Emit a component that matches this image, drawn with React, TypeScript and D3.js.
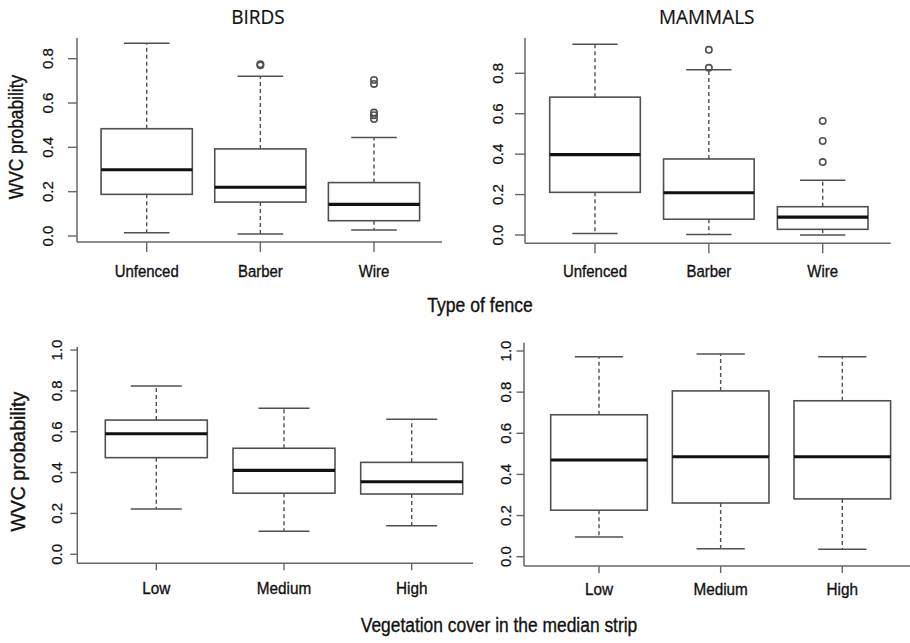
import React from "react";
import * as d3 from "d3";

// ---------- DATA ----------
const fenceCategories = ["Unfenced", "Barber", "Wire"];
const vegCategories = ["Low", "Medium", "High"];

// [lower whisker, Q1, median, Q3, upper whisker]
const birdsFenceStats = [
  [0.015, 0.188, 0.299, 0.484, 0.87],
  [0.009, 0.153, 0.22, 0.393, 0.721],
  [0.027, 0.069, 0.143, 0.241, 0.444],
];
const birdsFenceOutliers = [[], [0.77, 0.775], [0.528, 0.545, 0.557, 0.686, 0.704]];

const mammalsFenceStats = [
  [0.008, 0.211, 0.398, 0.682, 0.944],
  [0.003, 0.078, 0.209, 0.376, 0.818],
  [0.0, 0.028, 0.088, 0.14, 0.271],
];
const mammalsFenceOutliers = [[], [0.827, 0.916], [0.361, 0.465, 0.564]];

const birdsVegStats = [
  [0.222, 0.473, 0.59, 0.657, 0.824],
  [0.113, 0.299, 0.411, 0.519, 0.715],
  [0.14, 0.295, 0.355, 0.45, 0.661],
];
const birdsVegOutliers = [[], [], []];

const mammalsVegStats = [
  [0.096, 0.226, 0.47, 0.69, 0.972],
  [0.039, 0.261, 0.486, 0.806, 0.985],
  [0.036, 0.281, 0.486, 0.758, 0.972],
];
const mammalsVegOutliers = [[], [], []];

const fenceTicks = [0, 0.2, 0.4, 0.6, 0.8];
const vegTicks = [0, 0.2, 0.4, 0.6, 0.8, 1.0];

const panelTitles = ["BIRDS", "MAMMALS"];
const yTitle = "WVC probability";
const fenceTitle = "Type of fence";
const vegTitle = "Vegetation cover in the median strip";

// ---------- LAYOUT ----------
const FONT = "'Liberation Sans', Arial, Helvetica, sans-serif";
const AXIS = "#666";
const BOX = "#505050";

type Panel = {
  cats: string[];
  stats: number[][];
  outliers: number[][];
  ticks: number[];
  tickDomainMax: number;
  xRange: [number, number];
  yRange: [number, number];
  axisX: [number, number];
  axisYTop: number;
  axisYBottom: number;
  halfW: number;
  yTickLen: number;
  xTickLen: number;
  tickLabelX: number;
  catBaseline: number;
  catSx: number;
};

const panels: Panel[] = [
  {
    cats: fenceCategories, stats: birdsFenceStats, outliers: birdsFenceOutliers,
    ticks: fenceTicks, tickDomainMax: 0.8,
    xRange: [146.7, 374], yRange: [236, 58.7],
    axisX: [77, 442], axisYTop: 38, axisYBottom: 242,
    halfW: 45.6, yTickLen: 9, xTickLen: 10, tickLabelX: 52.7, catBaseline: 276.7, catSx: 0.88,
  },
  {
    cats: fenceCategories, stats: mammalsFenceStats, outliers: mammalsFenceOutliers,
    ticks: fenceTicks, tickDomainMax: 0.8,
    xRange: [595, 822.7], yRange: [235, 73.3],
    axisX: [525, 890.7], axisYTop: 38, axisYBottom: 243.3,
    halfW: 45.3, yTickLen: 10, xTickLen: 10, tickLabelX: 502.7, catBaseline: 276.7, catSx: 0.88,
  },
  {
    cats: vegCategories, stats: birdsVegStats, outliers: birdsVegOutliers,
    ticks: vegTicks, tickDomainMax: 1.0,
    xRange: [156.3, 411.7], yRange: [554.3, 350],
    axisX: [77.3, 473], axisYTop: 347, axisYBottom: 563.3,
    halfW: 51, yTickLen: 7, xTickLen: 7, tickLabelX: 61.7, catBaseline: 594, catSx: 0.9,
  },
  {
    cats: vegCategories, stats: mammalsVegStats, outliers: mammalsVegOutliers,
    ticks: vegTicks, tickDomainMax: 1.0,
    xRange: [599, 842.3], yRange: [556.7, 351],
    axisX: [524, 910], axisYTop: 342.7, axisYBottom: 566,
    halfW: 48.3, yTickLen: 7.5, xTickLen: 7, tickLabelX: 511, catBaseline: 595, catSx: 0.9,
  },
];

function Txt(props: {
  x: number; y: number; size: number; sx?: number; rot?: number;
  family?: string; children: React.ReactNode; fill?: string; weight?: number;
}) {
  const { x, y, size, sx = 1, rot = 0, family = FONT, fill = "#111", weight = 0.35 } = props;
  return (
    <text
      transform={`translate(${x},${y}) rotate(${rot}) scale(${sx},1)`}
      textAnchor="middle"
      fontSize={size}
      fontFamily={family}
      fill={fill}
      stroke={fill}
      strokeWidth={weight}
    >
      {props.children}
    </text>
  );
}

function BoxPanel({ p }: { p: Panel }) {
  const x = d3.scalePoint<string>().domain(p.cats).range(p.xRange).padding(0);
  const y = d3.scaleLinear().domain([0, p.tickDomainMax]).range(p.yRange);
  const fmt = d3.format(".1f");
  const capW = p.halfW / 2;
  return (
    <g>
      <line x1={p.axisX[0]} x2={p.axisX[0]} y1={p.axisYTop} y2={p.axisYBottom} stroke={AXIS} strokeWidth={1.5} />
      <line x1={p.axisX[0]} x2={p.axisX[1]} y1={p.axisYBottom} y2={p.axisYBottom} stroke={AXIS} strokeWidth={1.5} />
      {p.ticks.map((t) => (
        <g key={t}>
          <line x1={p.axisX[0] - p.yTickLen} x2={p.axisX[0]} y1={y(t)} y2={y(t)} stroke={AXIS} strokeWidth={1.4} />
          <Txt x={p.tickLabelX} y={y(t)} size={15} rot={-90} weight={0.25}>{fmt(t)}</Txt>
        </g>
      ))}
      {p.cats.map((c) => (
        <g key={c}>
          <line x1={x(c)!} x2={x(c)!} y1={p.axisYBottom} y2={p.axisYBottom + p.xTickLen} stroke={AXIS} strokeWidth={1.4} />
          <Txt x={x(c)!} y={p.catBaseline} size={17} sx={p.catSx}>{c}</Txt>
        </g>
      ))}
      {p.cats.map((c, i) => {
        const [lo, q1, med, q3, hi] = p.stats[i];
        const cx = x(c)!;
        return (
          <g key={"b" + c}>
            <line x1={cx} x2={cx} y1={y(q3)} y2={y(hi)} stroke={BOX} strokeWidth={1.4} strokeDasharray="4,3" />
            <line x1={cx} x2={cx} y1={y(q1)} y2={y(lo)} stroke={BOX} strokeWidth={1.4} strokeDasharray="4,3" />
            <line x1={cx - capW} x2={cx + capW} y1={y(hi)} y2={y(hi)} stroke={BOX} strokeWidth={1.5} />
            <line x1={cx - capW} x2={cx + capW} y1={y(lo)} y2={y(lo)} stroke={BOX} strokeWidth={1.5} />
            <rect x={cx - p.halfW} y={y(q3)} width={2 * p.halfW} height={y(q1) - y(q3)} fill="#fff" stroke={BOX} strokeWidth={1.6} />
            <line x1={cx - p.halfW} x2={cx + p.halfW} y1={y(med)} y2={y(med)} stroke="#111" strokeWidth={3.2} />
            {p.outliers[i].map((o, k) => (
              <circle key={k} cx={cx} cy={y(o)} r={3.2} fill="none" stroke={BOX} strokeWidth={1.6} />
            ))}
          </g>
        );
      })}
    </g>
  );
}

export default function App() {
  return (
    <svg
      width={910}
      height={643}
      style={{ position: "absolute", left: 0, top: 0, background: "#fff" }}
    >
      <rect width={910} height={643} fill="#fff" />
      {panels.map((p, i) => (
        <BoxPanel key={i} p={p} />
      ))}
      <Txt x={258} y={23.5} size={20} sx={0.95} family="'Open Sans', sans-serif" weight={0.2}>{panelTitles[0]}</Txt>
      <Txt x={706.7} y={23.5} size={20} sx={0.95} family="'Open Sans', sans-serif" weight={0.2}>{panelTitles[1]}</Txt>
      <Txt x={23.3} y={137} size={19.5} sx={0.89} rot={-90}>{yTitle}</Txt>
      <Txt x={25} y={461.7} size={19.5} sx={1.0} rot={-90}>{yTitle}</Txt>
      <Txt x={480} y={311.7} size={19.5} sx={0.9}>{fenceTitle}</Txt>
      <Txt x={499} y={632.3} size={20} sx={0.87}>{vegTitle}</Txt>
    </svg>
  );
}
